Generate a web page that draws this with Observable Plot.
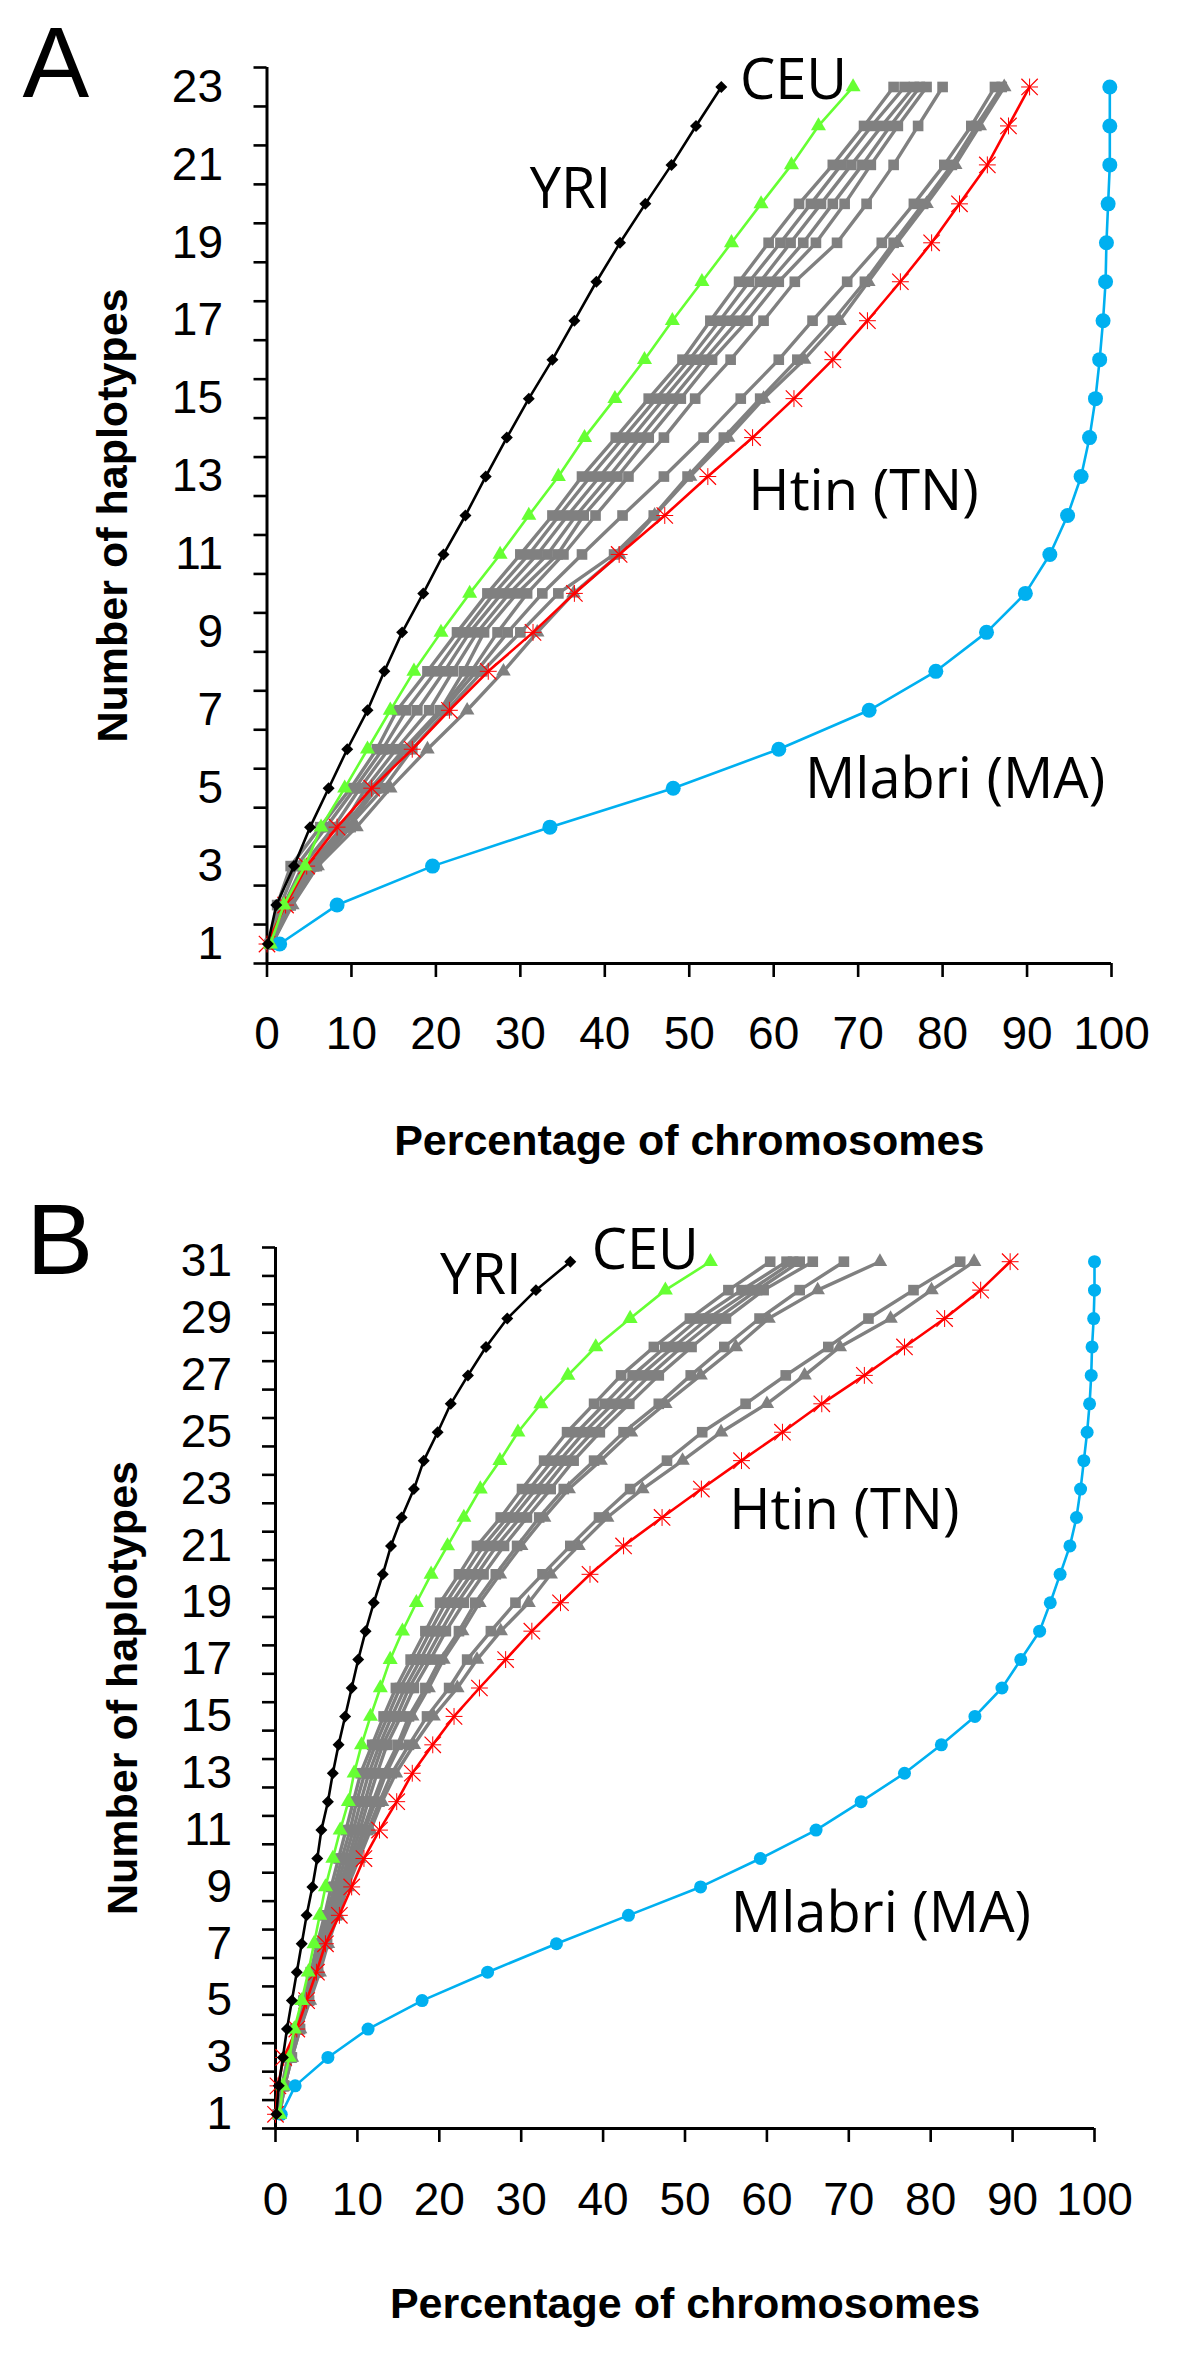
<!DOCTYPE html>
<html>
<head>
<meta charset="utf-8">
<script src="https://cdn.jsdelivr.net/npm/d3@7"></script>
<script src="https://cdn.jsdelivr.net/npm/@observablehq/plot@0.6"></script>
<style>
  html, body { margin: 0; padding: 0; background: #fff; }
  #fig { position: relative; width: 1200px; height: 2366px; background: #fff; }
  #fig > div { position: absolute; left: 0; }
  #fig svg { overflow: visible; }
</style>
</head>
<body>
<div id="fig"><div id="panelA" style="top:0px"></div><div id="panelB" style="top:1183px"></div></div>
<script>
// ---------------- shared tick labels ----------------
const xTickValues = [0, 10, 20, 30, 40, 50, 60, 70, 80, 90, 100];
const xTitle = "Percentage of chromosomes";
const yTitle = "Number of haplotypes";

// ---------------- Panel A data ----------------
const haplotypesA = [1,2,3,4,5,6,7,8,9,10,11,12,13,14,15,16,17,18,19,20,21,22,23];
const yTickLabelsA = [1,3,5,7,9,11,13,15,17,19,21,23];
const yriA    = [0.1,1.1,3.2,5.1,7.3,9.5,11.9,13.9,16.0,18.5,20.9,23.5,25.9,28.4,31.0,33.8,36.4,39.0,41.8,44.8,47.9,50.8,53.8];
const ceuA    = [0.4,2.0,4.5,6.4,9.2,11.9,14.6,17.4,20.6,24.0,27.6,31.0,34.5,37.6,41.2,44.7,48.0,51.5,55.0,58.5,62.1,65.3,69.4];
const htinA   = [0.0,2.2,4.7,8.3,12.4,17.2,21.6,26.2,31.5,36.4,41.7,47.1,52.2,57.5,62.4,67.0,71.1,75.0,78.7,82.0,85.3,87.8,90.3];
const mlabriA = [1.5,8.3,19.6,33.5,48.1,60.6,71.3,79.2,85.2,89.8,92.7,94.8,96.4,97.4,98.1,98.6,99.0,99.3,99.4,99.6,99.8,99.8,99.8];
const grayA1  = [0.3,1.2,2.8,6.3,9.9,13.0,15.4,19.0,22.5,26.1,30.0,33.8,37.3,41.3,45.2,49.2,52.5,55.9,59.4,63.0,67.0,70.7,74.2];
const grayA2  = [0.4,1.6,3.5,7.0,10.4,13.7,16.5,20.0,23.3,26.9,31.0,34.6,38.3,42.2,46.1,50.0,53.6,57.1,60.8,64.4,68.0,71.6,75.5];
const grayA3  = [0.5,2.0,4.2,7.9,11.0,14.4,17.8,21.0,24.0,27.8,32.0,35.6,39.4,43.2,47.0,50.9,54.6,58.4,62.0,65.6,69.2,72.8,76.6];
const grayA4  = [0.5,2.4,5.0,8.9,11.7,15.3,19.2,22.0,24.9,28.7,33.2,36.6,40.5,44.2,48.0,51.8,55.8,59.5,63.5,67.0,70.5,73.8,77.3];
const grayA5  = [0.6,2.8,5.9,9.9,12.3,16.2,20.5,23.3,25.7,29.6,34.4,37.5,41.5,45.2,49.0,52.7,56.9,60.6,65.0,68.4,71.5,74.7,78.1];
const grayA6  = [0.6,2.8,5.5,9.5,13.0,16.5,20.5,24.2,27.3,30.8,35.1,38.9,42.8,47.0,50.7,54.9,58.8,62.5,67.5,71.0,74.2,77.1,80.0];
const grayA7  = [0.5,2.6,5.3,9.0,12.8,16.5,20.8,24.8,28.5,32.6,37.3,42.1,47.0,51.7,56.1,60.6,64.6,68.7,72.8,76.6,80.2,83.4,86.2];
const grayA8  = [0.5,2.8,5.6,9.6,13.8,17.2,21.3,25.5,30.0,34.5,41.1,45.8,49.8,54.1,58.4,62.8,67.0,70.8,74.2,77.7,81.1,84.0,87.0];
const grayA9  = [0.6,3.0,6.0,10.6,14.6,19.0,23.7,28.0,32.0,36.3,41.7,45.9,50.1,54.6,58.8,63.6,67.8,71.2,74.6,78.1,81.5,84.4,87.3];

// ---------------- Panel B data ----------------
const haplotypesB = [1,2,3,4,5,6,7,8,9,10,11,12,13,14,15,16,17,18,19,20,21,22,23,24,25,26,27,28,29,30,31];
const yTickLabelsB = [1,3,5,7,9,11,13,15,17,19,21,23,25,27,29,31];
const yriB    = [0.1,0.4,0.9,1.4,2.0,2.6,3.2,3.8,4.5,5.1,5.6,6.4,7.0,7.7,8.5,9.3,10.1,11.0,12.0,13.1,14.1,15.4,16.9,18.1,19.8,21.4,23.5,25.7,28.3,31.8,36.0];
const ceuB    = [0.5,0.9,1.7,2.3,3.2,4.0,4.7,5.4,6.1,7.0,7.9,8.9,9.6,10.5,11.6,12.8,14.0,15.5,17.2,19.0,21.0,23.0,25.0,27.4,29.6,32.4,35.7,39.1,43.3,47.6,53.1];
const htinB   = [0.0,0.3,1.0,2.6,3.8,5.0,6.1,7.8,9.3,10.8,12.7,14.8,16.7,19.2,21.8,24.9,28.1,31.3,34.8,38.4,42.5,47.2,52.0,56.9,61.9,66.7,71.9,76.8,81.7,86.1,89.7];
const mlabriB = [0.7,2.4,6.4,11.3,17.9,25.9,34.3,43.1,51.9,59.2,66.0,71.5,76.8,81.3,85.4,88.7,91.0,93.3,94.6,95.8,97.0,97.8,98.3,98.7,99.1,99.4,99.6,99.7,99.9,100,100];
const grayB1  = [0.3,0.8,1.5,2.4,3.4,4.3,5.1,6.0,6.8,7.7,8.6,9.5,10.4,11.8,13.2,14.7,16.5,18.3,20.1,22.4,24.6,27.5,30.1,32.8,35.6,38.9,42.2,46.2,50.6,55.3,60.4];
const grayB2  = [0.3,0.9,1.6,2.5,3.5,4.5,5.3,6.3,7.2,8.1,9.1,9.9,10.9,12.2,13.7,15.2,17.1,18.9,20.8,23.1,25.4,28.3,31.0,33.8,36.8,40.2,43.6,47.6,51.7,56.9,62.4];
const grayB3  = [0.4,0.9,1.7,2.6,3.6,4.6,5.5,6.6,7.5,8.5,9.5,10.4,11.4,12.7,14.2,15.8,17.7,19.5,21.5,23.9,26.2,29.0,31.8,34.7,37.7,41.2,44.6,48.6,52.8,58.0,63.2];
const grayB4  = [0.4,1.0,1.8,2.7,3.8,4.8,5.7,6.8,7.8,8.9,9.9,10.9,11.9,13.1,14.8,16.3,18.3,20.2,22.2,24.6,27.0,29.9,32.7,35.5,38.7,42.2,45.7,49.6,53.9,58.8,64.0];
const grayB5  = [0.4,1.0,1.8,2.8,3.9,4.9,5.9,7.0,8.1,9.2,10.3,11.3,12.4,13.6,15.3,16.9,18.9,20.8,23.0,25.4,27.9,30.7,33.6,36.4,39.6,43.2,46.8,50.8,55.0,59.6,65.6];
const grayB6  = [0.5,1.0,1.9,2.9,4.0,5.0,6.0,7.2,8.3,9.5,10.7,11.9,13.2,14.9,16.3,18.3,20.1,22.4,24.4,26.9,29.5,32.2,35.2,38.9,42.5,46.8,50.7,54.8,59.1,64.0,69.4];
const grayB7  = [0.5,1.1,1.9,2.9,4.0,5.1,6.1,7.3,8.4,9.7,10.9,12.2,13.5,15.2,16.7,18.7,20.5,22.8,24.9,27.4,30.0,32.8,35.8,39.7,43.4,47.6,51.9,56.2,60.2,66.2,73.8];
const grayB8  = [0.5,1.1,2.0,3.0,4.1,5.2,6.3,7.5,8.6,10.0,11.3,12.7,14.2,16.3,18.5,21.2,23.4,26.3,29.3,32.6,36.0,39.5,43.3,47.8,52.1,57.4,62.3,67.5,72.4,77.9,83.6];
const grayB9  = [0.5,1.1,2.0,3.0,4.2,5.4,6.4,7.6,8.8,10.2,11.6,13.0,14.7,16.9,19.3,22.2,24.6,27.5,30.9,33.6,37.0,40.5,44.8,49.7,54.4,60.0,64.6,68.9,75.1,80.1,85.3];

// series labels (text anchored in data units: x = percentage, y = haplotypes)
const labelsA = [
  {text: "YRI", x: 31.1, y: 19.9},
  {text: "CEU", x: 56.0, y: 22.68},
  {text: "Htin (TN)", x: 57.0, y: 12.13},
  {text: "Mlabri (MA)", x: 63.7, y: 4.74}
];
const labelsB = [
  {text: "YRI", x: 20.1, y: 29.85},
  {text: "CEU", x: 38.6, y: 30.76},
  {text: "Htin (TN)", x: 55.4, y: 21.58},
  {text: "Mlabri (MA)", x: 55.6, y: 7.43}
];

// ---------------- drawing ----------------
const GRAY = "#808080", GREEN = "#66ff33", RED = "#ff0000", BLUE = "#00b0f0", BLACK = "#000000";

function rows(name, hap, values) {
  return values.map((v, i) => ({series: name, x: v, y: hap[i]}));
}

function panel(cfg) {
  const N = cfg.hap.length;
  const grayMarks = [];
  cfg.grays.forEach((g, k) => {
    const data = rows("gray" + k, cfg.hap, g.values);
    grayMarks.push(Plot.line(data, {x: "x", y: "y", stroke: GRAY, strokeWidth: 3.4}));
    grayMarks.push(Plot.dot(data, {x: "x", y: "y", symbol: g.symbol, fill: GRAY, r: g.symbol === "square" ? 6 : 5.4}));
  });
  const s = cfg.series;
  const yri = rows("YRI", cfg.hap, s.yri), ceu = rows("CEU", cfg.hap, s.ceu),
        htin = rows("Htin", cfg.hap, s.htin), mlabri = rows("Mlabri", cfg.hap, s.mlabri);
  const halfTicks = d3.range(0.5, N + 1, 1);
  return Plot.plot({
    width: 1200,
    height: cfg.height,
    marginTop: cfg.mt, marginBottom: cfg.mb, marginLeft: cfg.ml, marginRight: cfg.mr,
    x: {domain: [0, 100]},
    y: {domain: [0.5, N + 0.5]},
    style: {fontFamily: "'Liberation Sans', Arial, sans-serif", color: "#000", background: "#fff", overflow: "visible"},
    marks: [
      Plot.axisX({ticks: xTickValues, tickSize: 14, tickPadding: cfg.xPad, fontSize: 46, strokeWidth: 2.6, label: null}),
      Plot.axisY({ticks: halfTicks, tickSize: 13, tickFormat: () => "", strokeWidth: 2.6, label: null}),
      Plot.axisY({ticks: cfg.yLabels, tickSize: 0, tickPadding: cfg.yPad, fontSize: 46, label: null}),
      Plot.ruleX([0], {y1: 0.5, y2: N + 0.5, stroke: BLACK, strokeWidth: 3}),
      Plot.ruleY([0.5], {x1: 0, x2: 100, stroke: BLACK, strokeWidth: 3}),
      ...grayMarks,
      Plot.line(mlabri, {x: "x", y: "y", stroke: BLUE, strokeWidth: 2.6}),
      Plot.dot(mlabri, {x: "x", y: "y", fill: BLUE, r: cfg.blueR}),
      Plot.line(htin, {x: "x", y: "y", stroke: RED, strokeWidth: 2.6}),
      Plot.dot(htin, {x: "x", y: "y", symbol: "times", stroke: RED, strokeWidth: 1.2, r: 7.5}),
      Plot.dot(htin, {x: "x", y: "y", symbol: "plus", stroke: RED, strokeWidth: 1.0, r: 5.5}),
      Plot.line(ceu, {x: "x", y: "y", stroke: GREEN, strokeWidth: 2.6}),
      Plot.dot(ceu, {x: "x", y: "y", symbol: "triangle", fill: GREEN, r: 5.6}),
      Plot.line(yri, {x: "x", y: "y", stroke: BLACK, strokeWidth: 2.6}),
      Plot.dot(yri, {x: "x", y: "y", symbol: "diamond2", fill: BLACK, r: 5.4}),
      Plot.text(cfg.labels, {x: "x", y: "y", text: "text", textAnchor: "start", lineAnchor: "bottom",
        fontSize: 56, fontFamily: "'Open Sans', 'Noto Sans', sans-serif", fill: BLACK}),
      Plot.text([xTitle], {frameAnchor: "bottom", textAnchor: "middle", dy: cfg.xTitleDy, lineAnchor: "bottom",
        fontSize: 43, fontWeight: "bold", fill: BLACK}),
      Plot.text([yTitle], {frameAnchor: "left", textAnchor: "middle", dx: cfg.yTitleDx, rotate: -90, lineAnchor: "bottom",
        fontSize: 43, fontWeight: "bold", fill: BLACK}),
      Plot.text([cfg.letter], {frameAnchor: "top-left", dx: cfg.letterDx, dy: cfg.letterDy, textAnchor: "start",
        lineAnchor: "bottom", fontSize: 100, fill: BLACK})
    ]
  });
}

const chartA = panel({
  hap: haplotypesA, yLabels: yTickLabelsA, height: 1183,
  mt: 67, mb: 220, ml: 266.5, mr: 89,
  xPad: 39, yPad: 44, xTitleDy: 191, yTitleDx: -140.5,
  letter: "A", letterDx: 22 - 266.5, letterDy: 96 - 67, blueR: 7.5,
  series: {yri: yriA, ceu: ceuA, htin: htinA, mlabri: mlabriA},
  grays: [
    {values: grayA1, symbol: "square"}, {values: grayA2, symbol: "square"}, {values: grayA3, symbol: "square"},
    {values: grayA4, symbol: "square"}, {values: grayA5, symbol: "square"}, {values: grayA6, symbol: "square"},
    {values: grayA7, symbol: "square"}, {values: grayA8, symbol: "square"}, {values: grayA9, symbol: "triangle"}
  ],
  labels: labelsA
});
document.getElementById("panelA").appendChild(chartA);

const chartB = panel({
  hap: haplotypesB, yLabels: yTickLabelsB, height: 1183,
  mt: 64, mb: 238, ml: 275, mr: 106,
  xPad: 40, yPad: 43.5, xTitleDy: 189, yTitleDx: -139,
  letter: "B", letterDx: 26 - 275, letterDy: 90 - 64, blueR: 6.5,
  series: {yri: yriB, ceu: ceuB, htin: htinB, mlabri: mlabriB},
  grays: [
    {values: grayB1, symbol: "square"}, {values: grayB2, symbol: "square"}, {values: grayB3, symbol: "square"},
    {values: grayB4, symbol: "square"}, {values: grayB5, symbol: "square"}, {values: grayB6, symbol: "square"},
    {values: grayB7, symbol: "triangle"}, {values: grayB8, symbol: "square"}, {values: grayB9, symbol: "triangle"}
  ],
  labels: labelsB
});
document.getElementById("panelB").appendChild(chartB);
</script>
</body>
</html>
